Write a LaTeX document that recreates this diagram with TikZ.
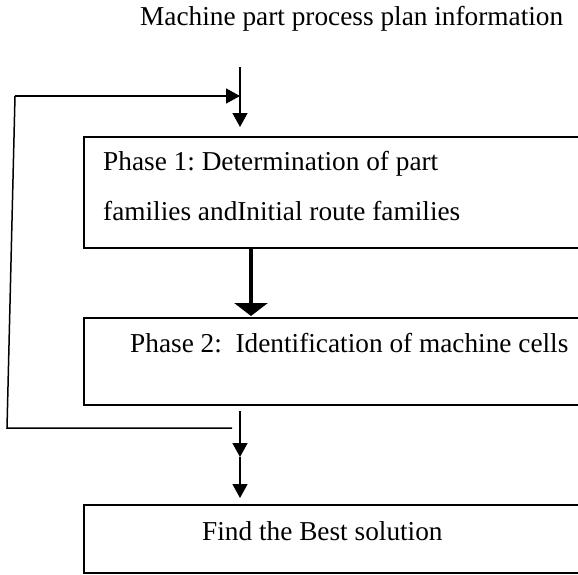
\documentclass[tikz,border=0pt]{standalone}
\usepackage{fontspec}
\setmainfont{Liberation Serif}
\usetikzlibrary{arrows.meta}
\frenchspacing

\begin{document}
\begin{tikzpicture}[x=1pt, y=-1pt,
  stagebox/.style={draw, line width=1.6pt, rectangle, anchor=north west,
    inner sep=0pt, minimum width=540pt},
  label/.style={anchor=base west, inner sep=0pt,
    font=\fontsize{27.3}{33}\selectfont},
  flow/.style={line width=1.5pt, -{Triangle[length=14pt, width=15pt]}},
  bigflow/.style={line width=4pt, -{Triangle[length=13pt, width=33pt]}},
  loopline/.style={line width=1.5pt}
]
\useasboundingbox (0,0) rectangle (578,574);
\clip (0,0) rectangle (578,574);

% input label
\node[label] (input) at (140,25) {Machine part process plan information};

% stage boxes (open towards the right margin)
\node[stagebox, minimum height=111pt] (p1) at (83,136) {};
\node[stagebox, minimum height=87pt]  (p2) at (83,317) {};
\node[stagebox, minimum height=68pt]  (p3) at (83,504) {};

% box texts
\node[label] (p1a) at (103,170) {Phase 1: Determination of part};
\node[label] (p1b) at (103,220) {families andInitial route families};
\node[label] (p2a) at (130,352) {Phase 2:\ \ Identification of machine cells};
\node[label] (p3a) at (202,540) {Find the Best solution};

% junction points of the main line
\coordinate (top) at (240,67);
\coordinate (merge) at (240,96);
\coordinate (out) at (240,411);
\coordinate (mid) at (240,457);

% feedback loop corners
\coordinate (fbstart) at (232,428);
\coordinate (fbdown) at (7,428);
\coordinate (fbup) at (15,96);

% main flow
\draw[flow, shorten >=9pt] (top) -- (p1.north west -| top);
\draw[bigflow, shorten >=1pt] (p1.south west -| 251,0) -- (p2.north west -| 251,0);
\draw[flow] (out) -- (mid);
\draw[flow, shorten >=6pt] (mid) -- (p3.north west -| mid);

% feedback loop back to the input
\draw[loopline] (fbstart) -- (fbdown) -- (fbup);
\draw[flow] (fbup) -- (merge);
\end{tikzpicture}
\end{document}
